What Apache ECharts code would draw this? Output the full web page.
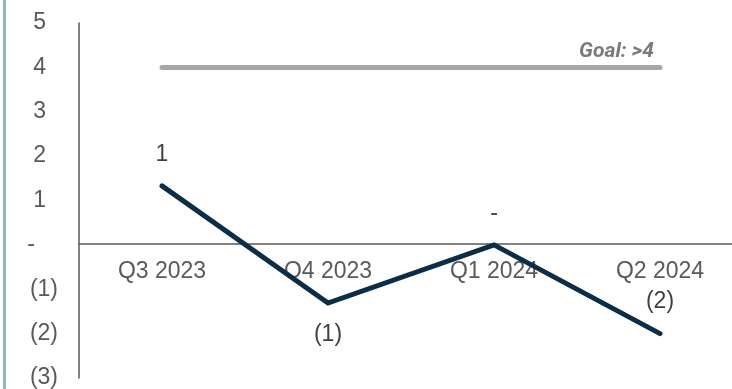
<!DOCTYPE html>
<html>
<head>
<meta charset="utf-8">
<script src="https://cdn.jsdelivr.net/npm/echarts@6/dist/echarts.min.js"></script>
<style>
  html, body { margin: 0; padding: 0; background: #fff; }
  #chart { width: 732px; height: 389px; }
</style>
</head>
<body>
<div id="chart"></div>
<script>
// data
var quarters = ['Q3 2023', 'Q4 2023', 'Q1 2024', 'Q2 2024'];
var scoreValues = [1.33, -1.31, 0, -2.0];
var goalValues = [4, 4, 4, 4];
var labelSides = ['top', 'bottom', 'top', 'top'];

// accounting style: 1, (1), -
function fmt(v) {
  var r = Math.round(Math.abs(v));
  if (r === 0) return '-';
  return v < 0 ? '(' + r + ')' : String(r);
}

var myChart = echarts.init(document.getElementById('chart'));

var option = {
  backgroundColor: '#fff',
  animation: false,
  textStyle: { fontFamily: 'Liberation Sans, Arial, sans-serif' },
  grid: { left: 79, top: 23, bottom: 11, width: 664, containLabel: false, outerBoundsMode: 'none' },
  xAxis: {
    type: 'category',
    data: quarters,
    // axis sits on the zero line: move it up from the bottom of the grid
    offset: -134,
    axisLine: { onZero: false, lineStyle: { color: '#595959', width: 1.5 } },
    axisTick: { show: false },
    axisLabel: { color: '#595959', fontSize: 23, margin: 16 }
  },
  yAxis: {
    type: 'value',
    min: -3,
    max: 5,
    interval: 1,
    splitLine: { show: false },
    axisTick: { show: false },
    axisLine: { show: true, lineStyle: { color: '#595959', width: 1.5 } },
    axisLabel: {
      color: '#595959',
      fontSize: 23,
      margin: 21,
      align: 'right',
      formatter: function (v) {
        if (v === 0) return '{dash|-}';
        if (v > 0) return '{pos|' + v + '}';
        return '(' + (-v) + ')';
      },
      rich: {
        pos: { color: '#595959', fontSize: 23, padding: [0, 12, 0, 0] },
        dash: { color: '#595959', fontSize: 23, padding: [0, 23, 0, 0] }
      }
    }
  },
  series: [
    {
      name: 'Goal',
      type: 'line',
      data: goalValues.map(function (v, i) {
        if (i === goalValues.length - 1) {
          return {
            value: v,
            label: {
              show: true,
              position: 'top',
              align: 'right',
              distance: 5,
              offset: [-6, 0],
              formatter: 'Goal: >4',
              color: '#7a7a7a',
              fontSize: 21,
              fontWeight: 'bold',
              fontStyle: 'italic',
              fontFamily: 'Roboto, sans-serif'
            }
          };
        }
        return v;
      }),
      symbol: 'circle',
      symbolSize: 0,
      showSymbol: true,
      lineStyle: { color: '#a6a6a6', width: 5, cap: 'round' },
      itemStyle: { color: 'rgba(0,0,0,0)' },
      label: { show: false },
      z: 2
    },
    {
      name: 'Score',
      type: 'line',
      data: scoreValues.map(function (v, i) {
        return { value: v, label: { position: labelSides[i] } };
      }),
      symbol: 'circle',
      symbolSize: 0,
      showSymbol: true,
      itemStyle: { color: 'rgba(0,0,0,0)' },
      lineStyle: { color: '#0c2d48', width: 5, cap: 'round', join: 'miter' },
      label: {
        show: true,
        distance: 20,
        color: '#404040',
        fontSize: 23,
        formatter: function (p) { return fmt(p.value); }
      },
      z: 3
    }
  ],
  graphic: [
    {
      type: 'rect',
      left: 3,
      top: 0,
      shape: { width: 3, height: 389 },
      style: { fill: '#8cbcb4' }
    }
  ]
};

myChart.setOption(option);
</script>
</body>
</html>
